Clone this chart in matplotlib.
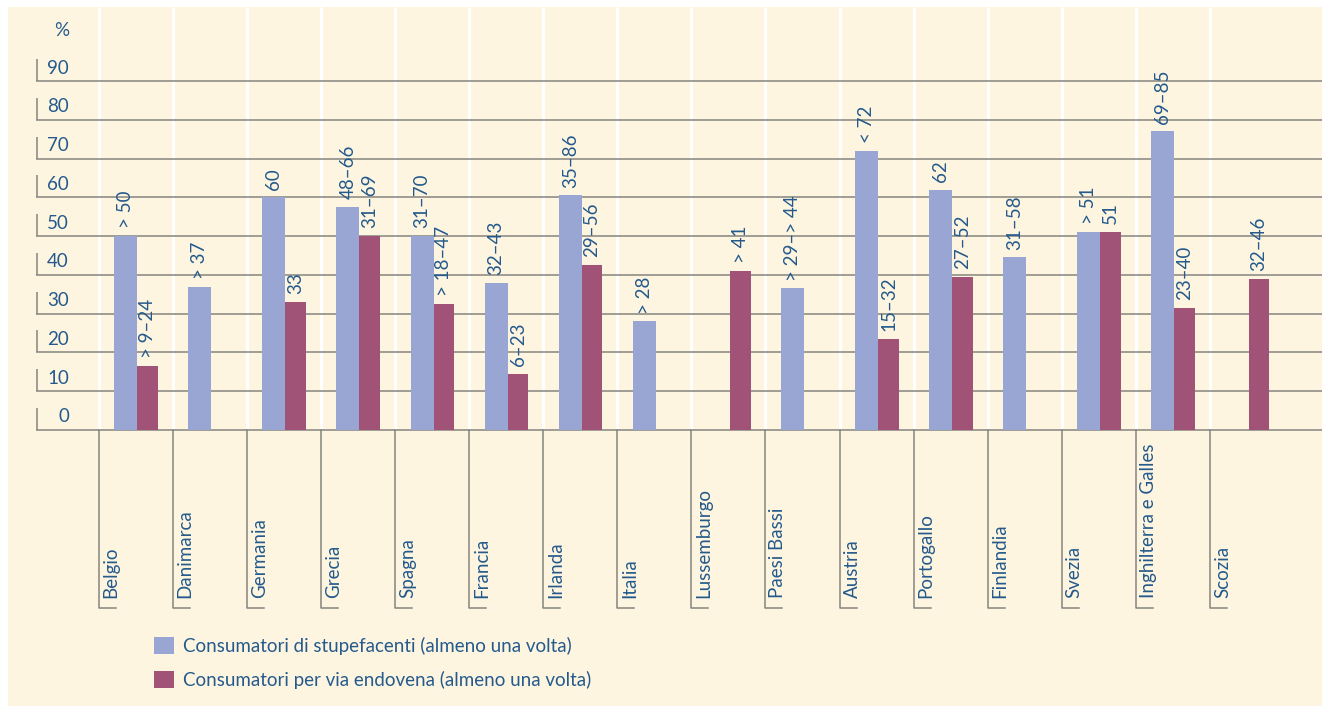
import numpy as np
import matplotlib.pyplot as plt
from matplotlib.patches import Rectangle

nan = np.nan

countries = ["Belgio", "Danimarca", "Germania", "Grecia", "Spagna", "Francia",
             "Irlanda", "Italia", "Lussemburgo", "Paesi Bassi", "Austria",
             "Portogallo", "Finlandia", "Svezia", "Inghilterra e Galles", "Scozia"]

# consumatori di stupefacenti (almeno una volta)
users = [50, 37, 60, 57.5, 50, 38, 60.5, 28, nan, 36.5, 72, 62, 44.5, 51, 77, nan]
users_lbl = ["> 50", "> 37", "60", "48–66", "31–70", "32–43", "35–86", "> 28", "",
             "> 29–> 44", "< 72", "62", "31–58", "> 51", "69–85", ""]

# consumatori per via endovena (almeno una volta)
iv = [16.5, nan, 33, 50, 32.5, 14.5, 42.5, nan, 41, nan, 23.5, 39.5, nan, 51, 31.5, 39]
iv_lbl = ["> 9–24", "", "33", "31–69", "> 18–47", "6–23", "29–56", "", "> 41", "",
          "15–32", "27–52", "", "51", "23–40", "32–46"]

yticks = list(range(0, 100, 10))

legend_labels = ["Consumatori di stupefacenti (almeno una volta)",
                 "Consumatori per via endovena (almeno una volta)"]

plt.rcParams['font.family'] = ['Lato', 'DejaVu Sans']
fs = 13.5
txt_col = '#245a8c'
blue = '#99a5d2'
red = '#a05377'
grey = '#85857f'
cream = '#fef5e1'

W, H = 1322, 706
x0px, dx = 135.7, 74.09
y0px, dy = 430, 349 / 90


def px_x(p):
    return (p - x0px) / dx


def px_y(r):
    return (y0px - r) / dy


fig = plt.figure(figsize=(W / 100, H / 100), dpi=100)
fig.patch.set_facecolor('white')
fig.patches.append(Rectangle((8 / W, 0), 1 - 8 / W, 1 - 7 / H, transform=fig.transFigure,
                             facecolor=cream, edgecolor='none', zorder=-1))

ax = fig.add_axes([36 / W, (H - 430) / H, (W - 36) / W, 349 / H])
ax.set_xlim(px_x(36), px_x(W))
ax.set_ylim(0, 90)
ax.axis('off')

x = np.arange(len(countries))
bounds = x - 0.5

# column separators and grid
ax.vlines(bounds, 0, px_y(7), color='white', lw=2.2, zorder=1, clip_on=False)
ax.hlines(yticks, px_x(36), px_x(W), color=grey, lw=1.1, zorder=2, clip_on=False)
ax.vlines([px_x(36.5)] * len(yticks), yticks, np.array(yticks) + 22 / dy,
          color=grey, lw=1.1, zorder=2, clip_on=False)
for t in yticks:
    ax.text(px_x(69), t + 13 / dy, str(t), ha='right', va='center',
            fontsize=fs, color=txt_col)
ax.text(px_x(69), px_y(30), '%', ha='right', va='center', fontsize=fs, color=txt_col)

b1 = ax.bar(x - 0.29, users, width=0.31, align='edge', color=blue, zorder=3,
            label=legend_labels[0])
b2 = ax.bar(x + 0.02, iv, width=0.28, align='edge', color=red, zorder=3,
            label=legend_labels[1])

for i in range(len(countries)):
    if not np.isnan(users[i]):
        ax.text(x[i] - 0.29 + 0.155, users[i] + 2.0, users_lbl[i], rotation=90,
                ha='center', va='bottom', fontsize=fs, color=txt_col)
    if not np.isnan(iv[i]):
        ax.text(x[i] + 0.02 + 0.14, iv[i] + 2.0, iv_lbl[i], rotation=90,
                ha='center', va='bottom', fontsize=fs, color=txt_col)

# category ticks and labels below the axis
foot = px_y(608)
for b, name in zip(bounds, countries):
    ax.plot([b, b, b + 17 / dx], [0, foot, foot], color=grey, lw=1.1,
            clip_on=False, zorder=2)
    ax.text(b + 4 / dx, px_y(598), name, rotation=90, ha='left', va='bottom',
            fontsize=fs, color=txt_col)

fig.legend(handles=[b1, b2], labels=legend_labels, loc='upper left',
           bbox_to_anchor=(154 / W, 1 - 637 / H), frameon=False,
           borderaxespad=0, borderpad=0, handlelength=1.05, handleheight=1.05,
           handletextpad=0.5, labelspacing=0.85, fontsize=fs, labelcolor=txt_col)

fig.savefig('out.png', dpi=100)
